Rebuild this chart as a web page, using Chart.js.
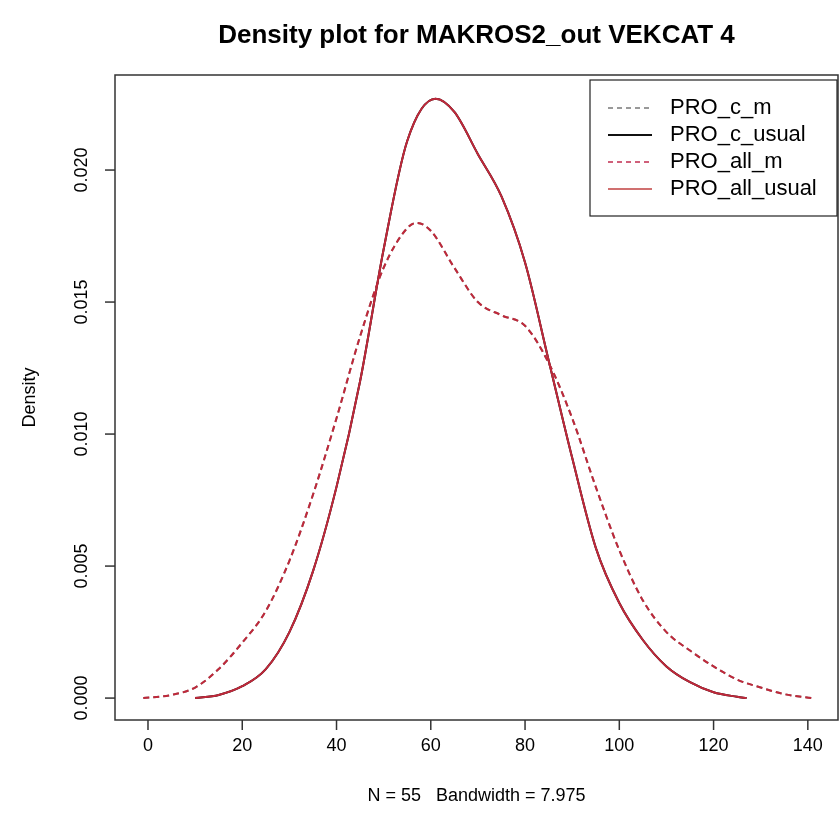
<!DOCTYPE html>
<html>
<head>
<meta charset="utf-8">
<script src="https://cdn.jsdelivr.net/npm/chart.js@4.4.0/dist/chart.umd.min.js"></script>
<style>
  html, body { margin: 0; padding: 0; background: #fff; }
  #wrap { width: 839px; height: 833px; position: relative; }
</style>
</head>
<body>
<div id="wrap"><canvas id="chart"></canvas></div>
<script>
// ======================= DATA =======================
const chartTitle = "Density plot for MAKROS2_out VEKCAT 4";
const xTitle = "N = 55   Bandwidth = 7.975";
const yTitle = "Density";

const xTicks = [0, 20, 40, 60, 80, 100, 120, 140];
const yTicks = [0, 0.005, 0.010, 0.015, 0.020];
const yTickLabels = ["0.000", "0.005", "0.010", "0.015", "0.020"];

// "m" curves (dashed)
const mX = [-1, 5, 10, 15, 20, 25, 30, 35, 40, 45, 50, 55, 57, 60, 65, 70, 75, 80, 85, 90, 95, 100, 105, 110, 115, 120, 125, 130, 135, 141];
const mY = [0.0, 0.00012, 0.0004, 0.0011, 0.0021, 0.0033, 0.0052, 0.0077, 0.0106, 0.0137, 0.0163, 0.0178, 0.0180, 0.0177, 0.0163, 0.0150, 0.0145, 0.0141, 0.0127, 0.0106, 0.0080, 0.0056, 0.0037, 0.0025, 0.0018, 0.0012, 0.0007, 0.0004, 0.00015, 0.0];

// "usual" curves (solid)
const uX = [10, 15, 20, 25, 30, 35, 40, 45, 50, 55, 61, 65, 70, 75, 80, 85, 90, 95, 100, 105, 110, 115, 120, 125, 127];
const uY = [0.0, 0.00012, 0.00045, 0.0011, 0.0025, 0.0048, 0.0080, 0.0120, 0.0170, 0.0211, 0.0227, 0.0222, 0.0206, 0.0190, 0.0165, 0.0128, 0.0091, 0.0057, 0.0036, 0.0022, 0.0012, 0.0006, 0.00022, 0.00005, 0.0];

const seriesNames = ["PRO_c_m", "PRO_c_usual", "PRO_all_m", "PRO_all_usual"];
const seriesColors = ["#8a8a8a", "#000000", "#c0283a", "#c0283a"];
const legendColors = ["#999999", "#111111", "#d0607a", "#d07070"];

const xMin = -7, xMax = 146.4;
const yMin = -0.00083, yMax = 0.0236;

// ======================= HELPERS =======================
function toPoints(xs, ys) {
    return xs.map((x, i) => ({ x: x, y: ys[i] }));
}

function makeSet(idx, xs, ys, dashed, order) {
    return {
        label: seriesNames[idx],
        data: toPoints(xs, ys),
        borderColor: seriesColors[idx],
        borderWidth: 2,
        borderDash: dashed ? [6, 4] : [],
        pointRadius: 0,
        fill: false,
        order: order,
        cubicInterpolationMode: 'monotone'
    };
}

const FONT = "'Liberation Sans', Arial, Helvetica, sans-serif";

// ======================= AXES / BOX PLUGIN =======================
const rAxes = {
    id: 'rAxes',
    afterDraw(chart) {
        const ctx = chart.ctx;
        const a = chart.chartArea;
        const xs = chart.scales.x, ys = chart.scales.y;
        ctx.save();
        ctx.strokeStyle = '#333';
        ctx.lineWidth = 1.5;
        ctx.strokeRect(a.left, a.top, a.right - a.left, a.bottom - a.top);

        ctx.fillStyle = '#000';
        ctx.font = "18px " + FONT;

        // x ticks
        ctx.textAlign = 'center';
        ctx.textBaseline = 'top';
        xTicks.forEach(v => {
            const px = xs.getPixelForValue(v);
            ctx.beginPath();
            ctx.moveTo(px, a.bottom);
            ctx.lineTo(px, a.bottom + 10);
            ctx.stroke();
            ctx.fillText(String(v), px, a.bottom + 17);
        });

        // y ticks (rotated labels)
        yTicks.forEach((v, i) => {
            const py = ys.getPixelForValue(v);
            ctx.beginPath();
            ctx.moveTo(a.left, py);
            ctx.lineTo(a.left - 10, py);
            ctx.stroke();
            ctx.save();
            ctx.translate(a.left - 24, py);
            ctx.rotate(-Math.PI / 2);
            ctx.textAlign = 'center';
            ctx.textBaseline = 'bottom';
            ctx.fillText(yTickLabels[i], 0, 0);
            ctx.restore();
        });

        // axis titles
        ctx.textAlign = 'center';
        ctx.textBaseline = 'middle';
        ctx.fillText(xTitle, (a.left + a.right) / 2, 796);
        ctx.save();
        ctx.translate(30, (a.top + a.bottom) / 2);
        ctx.rotate(-Math.PI / 2);
        ctx.fillText(yTitle, 0, 0);
        ctx.restore();

        // main title
        ctx.font = "bold 26px " + FONT;
        ctx.fillText(chartTitle, (a.left + a.right) / 2, 36);

        // legend box
        const lx = 590, ly = 80, lw = 247, lh = 136;
        ctx.fillStyle = '#fff';
        ctx.fillRect(lx, ly, lw, lh);
        ctx.strokeStyle = '#222';
        ctx.lineWidth = 1.2;
        ctx.strokeRect(lx, ly, lw, lh);
        ctx.font = "22px " + FONT;
        ctx.textAlign = 'left';
        ctx.textBaseline = 'middle';
        seriesNames.forEach((name, i) => {
            const yy = ly + 28 + i * 27;
            ctx.beginPath();
            ctx.strokeStyle = legendColors[i];
            ctx.lineWidth = 2;
            ctx.setLineDash(i % 2 === 0 ? [5, 4] : []);
            ctx.moveTo(lx + 18, yy);
            ctx.lineTo(lx + 62, yy);
            ctx.stroke();
            ctx.setLineDash([]);
            ctx.fillStyle = '#000';
            ctx.fillText(name, lx + 80, yy);
        });
        ctx.restore();
    }
};

// ======================= CHART =======================
const ctxChart = document.getElementById('chart').getContext('2d');
const chart = new Chart(ctxChart, {
    type: 'line',
    data: {
        datasets: [
            makeSet(0, mX, mY, true, 4),
            makeSet(1, uX, uY, false, 3),
            makeSet(2, mX, mY, true, 2),
            makeSet(3, uX, uY, false, 1)
        ]
    },
    options: {
        responsive: true,
        maintainAspectRatio: false,
        animation: false,
        layout: { padding: { left: 115, top: 75, right: 1, bottom: 113 } },
        plugins: {
            legend: { display: false },
            title: { display: false },
            tooltip: { enabled: false }
        },
        scales: {
            x: { type: 'linear', min: xMin, max: xMax, display: false },
            y: { type: 'linear', min: yMin, max: yMax, display: false }
        }
    },
    plugins: [rAxes]
});
</script>
</body>
</html>
